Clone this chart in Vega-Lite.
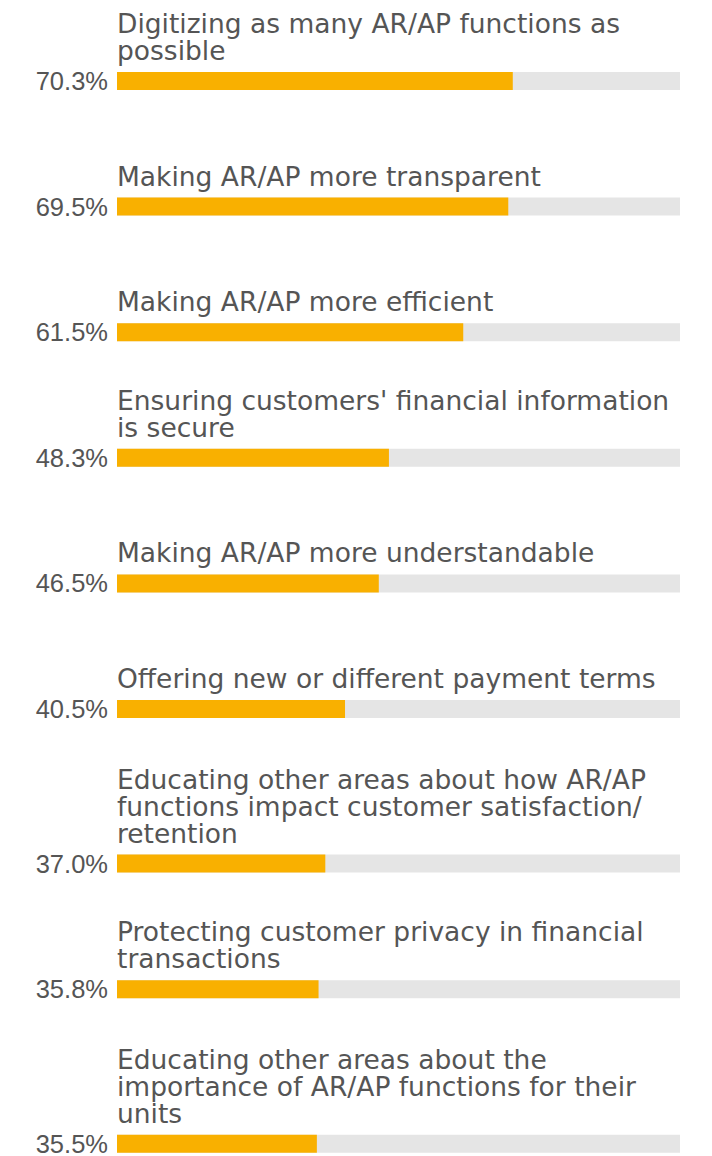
{
  "$schema": "https://vega.github.io/schema/vega-lite/v6.json",
  "padding": {"left": 35, "top": 12, "right": 5, "bottom": 5},
  "background": "white",
  "data": {
    "values": [
      {"label": "Digitizing as many AR/AP functions as\npossible", "value": 0.703},
      {"label": "Making AR/AP more transparent", "value": 0.695},
      {"label": "Making AR/AP more efficient", "value": 0.615},
      {"label": "Ensuring customers' financial information\nis secure", "value": 0.483},
      {"label": "Making AR/AP more understandable", "value": 0.465},
      {"label": "Offering new or different payment terms", "value": 0.405},
      {"label": "Educating other areas about how AR/AP\nfunctions impact customer satisfaction/\nretention", "value": 0.370},
      {"label": "Protecting customer privacy in financial\ntransactions", "value": 0.358},
      {"label": "Educating other areas about the\nimportance of AR/AP functions for their\nunits", "value": 0.355}
    ]
  },
  "transform": [{"window": [{"op": "row_number", "as": "rank"}], "sort": [{"field": "value", "order": "descending"}]}],
  "spacing": 107.6,
  "bounds": "flush",
  "vconcat": [
    {
      "transform": [{"filter": "datum.rank == 1"}],
      "width": 563, "height": 18,
      "encoding": {"y": {"field": "label", "type": "nominal", "axis": null, "scale": {"paddingInner": 0, "paddingOuter": 0}}},
      "layer": [
        {"mark": {"type": "bar", "color": "#e5e5e5"}, "encoding": {"x": {"datum": 0, "type": "quantitative", "scale": {"domain": [0, 1]}, "axis": null}, "x2": {"datum": 1}}},
        {"mark": {"type": "bar", "color": "#f9b000"}, "encoding": {"x": {"field": "value", "type": "quantitative"}}},
        {"mark": {"type": "text", "align": "right", "baseline": "alphabetic", "dx": -9, "dy": 9, "font": "Liberation Sans", "fontSize": 25.5, "color": "#555555"}, "encoding": {"x": {"datum": 0, "type": "quantitative"}, "text": {"field": "value", "type": "quantitative", "format": ".1%"}}},
        {"mark": {"type": "text", "align": "left", "baseline": "alphabetic", "dx": 0, "dy": -48, "lineBreak": "\n", "lineHeight": 27, "font": "DejaVu Sans", "fontSize": 26.5, "color": "#555555"}, "encoding": {"x": {"datum": 0, "type": "quantitative"}, "text": {"field": "label", "type": "nominal"}}}
      ]
    },
    {
      "transform": [{"filter": "datum.rank == 2"}],
      "width": 563, "height": 18,
      "encoding": {"y": {"field": "label", "type": "nominal", "axis": null, "scale": {"paddingInner": 0, "paddingOuter": 0}}},
      "layer": [
        {"mark": {"type": "bar", "color": "#e5e5e5"}, "encoding": {"x": {"datum": 0, "type": "quantitative", "scale": {"domain": [0, 1]}, "axis": null}, "x2": {"datum": 1}}},
        {"mark": {"type": "bar", "color": "#f9b000"}, "encoding": {"x": {"field": "value", "type": "quantitative"}}},
        {"mark": {"type": "text", "align": "right", "baseline": "alphabetic", "dx": -9, "dy": 9, "font": "Liberation Sans", "fontSize": 25.5, "color": "#555555"}, "encoding": {"x": {"datum": 0, "type": "quantitative"}, "text": {"field": "value", "type": "quantitative", "format": ".1%"}}},
        {"mark": {"type": "text", "align": "left", "baseline": "alphabetic", "dx": 0, "dy": -21, "lineBreak": "\n", "lineHeight": 27, "font": "DejaVu Sans", "fontSize": 26.5, "color": "#555555"}, "encoding": {"x": {"datum": 0, "type": "quantitative"}, "text": {"field": "label", "type": "nominal"}}}
      ]
    },
    {
      "transform": [{"filter": "datum.rank == 3"}],
      "width": 563, "height": 18,
      "encoding": {"y": {"field": "label", "type": "nominal", "axis": null, "scale": {"paddingInner": 0, "paddingOuter": 0}}},
      "layer": [
        {"mark": {"type": "bar", "color": "#e5e5e5"}, "encoding": {"x": {"datum": 0, "type": "quantitative", "scale": {"domain": [0, 1]}, "axis": null}, "x2": {"datum": 1}}},
        {"mark": {"type": "bar", "color": "#f9b000"}, "encoding": {"x": {"field": "value", "type": "quantitative"}}},
        {"mark": {"type": "text", "align": "right", "baseline": "alphabetic", "dx": -9, "dy": 9, "font": "Liberation Sans", "fontSize": 25.5, "color": "#555555"}, "encoding": {"x": {"datum": 0, "type": "quantitative"}, "text": {"field": "value", "type": "quantitative", "format": ".1%"}}},
        {"mark": {"type": "text", "align": "left", "baseline": "alphabetic", "dx": 0, "dy": -21, "lineBreak": "\n", "lineHeight": 27, "font": "DejaVu Sans", "fontSize": 26.5, "color": "#555555"}, "encoding": {"x": {"datum": 0, "type": "quantitative"}, "text": {"field": "label", "type": "nominal"}}}
      ]
    },
    {
      "transform": [{"filter": "datum.rank == 4"}],
      "width": 563, "height": 18,
      "encoding": {"y": {"field": "label", "type": "nominal", "axis": null, "scale": {"paddingInner": 0, "paddingOuter": 0}}},
      "layer": [
        {"mark": {"type": "bar", "color": "#e5e5e5"}, "encoding": {"x": {"datum": 0, "type": "quantitative", "scale": {"domain": [0, 1]}, "axis": null}, "x2": {"datum": 1}}},
        {"mark": {"type": "bar", "color": "#f9b000"}, "encoding": {"x": {"field": "value", "type": "quantitative"}}},
        {"mark": {"type": "text", "align": "right", "baseline": "alphabetic", "dx": -9, "dy": 9, "font": "Liberation Sans", "fontSize": 25.5, "color": "#555555"}, "encoding": {"x": {"datum": 0, "type": "quantitative"}, "text": {"field": "value", "type": "quantitative", "format": ".1%"}}},
        {"mark": {"type": "text", "align": "left", "baseline": "alphabetic", "dx": 0, "dy": -48, "lineBreak": "\n", "lineHeight": 27, "font": "DejaVu Sans", "fontSize": 26.5, "color": "#555555"}, "encoding": {"x": {"datum": 0, "type": "quantitative"}, "text": {"field": "label", "type": "nominal"}}}
      ]
    },
    {
      "transform": [{"filter": "datum.rank == 5"}],
      "width": 563, "height": 18,
      "encoding": {"y": {"field": "label", "type": "nominal", "axis": null, "scale": {"paddingInner": 0, "paddingOuter": 0}}},
      "layer": [
        {"mark": {"type": "bar", "color": "#e5e5e5"}, "encoding": {"x": {"datum": 0, "type": "quantitative", "scale": {"domain": [0, 1]}, "axis": null}, "x2": {"datum": 1}}},
        {"mark": {"type": "bar", "color": "#f9b000"}, "encoding": {"x": {"field": "value", "type": "quantitative"}}},
        {"mark": {"type": "text", "align": "right", "baseline": "alphabetic", "dx": -9, "dy": 9, "font": "Liberation Sans", "fontSize": 25.5, "color": "#555555"}, "encoding": {"x": {"datum": 0, "type": "quantitative"}, "text": {"field": "value", "type": "quantitative", "format": ".1%"}}},
        {"mark": {"type": "text", "align": "left", "baseline": "alphabetic", "dx": 0, "dy": -21, "lineBreak": "\n", "lineHeight": 27, "font": "DejaVu Sans", "fontSize": 26.5, "color": "#555555"}, "encoding": {"x": {"datum": 0, "type": "quantitative"}, "text": {"field": "label", "type": "nominal"}}}
      ]
    },
    {
      "transform": [{"filter": "datum.rank == 6"}],
      "width": 563, "height": 18,
      "encoding": {"y": {"field": "label", "type": "nominal", "axis": null, "scale": {"paddingInner": 0, "paddingOuter": 0}}},
      "layer": [
        {"mark": {"type": "bar", "color": "#e5e5e5"}, "encoding": {"x": {"datum": 0, "type": "quantitative", "scale": {"domain": [0, 1]}, "axis": null}, "x2": {"datum": 1}}},
        {"mark": {"type": "bar", "color": "#f9b000"}, "encoding": {"x": {"field": "value", "type": "quantitative"}}},
        {"mark": {"type": "text", "align": "right", "baseline": "alphabetic", "dx": -9, "dy": 9, "font": "Liberation Sans", "fontSize": 25.5, "color": "#555555"}, "encoding": {"x": {"datum": 0, "type": "quantitative"}, "text": {"field": "value", "type": "quantitative", "format": ".1%"}}},
        {"mark": {"type": "text", "align": "left", "baseline": "alphabetic", "dx": 0, "dy": -21, "lineBreak": "\n", "lineHeight": 27, "font": "DejaVu Sans", "fontSize": 26.5, "color": "#555555"}, "encoding": {"x": {"datum": 0, "type": "quantitative"}, "text": {"field": "label", "type": "nominal"}}}
      ]
    },
    {
      "transform": [{"filter": "datum.rank == 7"}],
      "width": 563, "height": 47,
      "encoding": {"y": {"field": "label", "type": "nominal", "axis": null, "scale": {"paddingInner": 0, "paddingOuter": 0.8056, "align": 1}}},
      "layer": [
        {"mark": {"type": "bar", "color": "#e5e5e5"}, "encoding": {"x": {"datum": 0, "type": "quantitative", "scale": {"domain": [0, 1]}, "axis": null}, "x2": {"datum": 1}}},
        {"mark": {"type": "bar", "color": "#f9b000"}, "encoding": {"x": {"field": "value", "type": "quantitative"}}},
        {"mark": {"type": "text", "align": "right", "baseline": "alphabetic", "dx": -9, "dy": 9, "font": "Liberation Sans", "fontSize": 25.5, "color": "#555555"}, "encoding": {"x": {"datum": 0, "type": "quantitative"}, "text": {"field": "value", "type": "quantitative", "format": ".1%"}}},
        {"mark": {"type": "text", "align": "left", "baseline": "alphabetic", "dx": 0, "dy": -75, "lineBreak": "\n", "lineHeight": 27, "font": "DejaVu Sans", "fontSize": 26.5, "color": "#555555"}, "encoding": {"x": {"datum": 0, "type": "quantitative"}, "text": {"field": "label", "type": "nominal"}}}
      ]
    },
    {
      "transform": [{"filter": "datum.rank == 8"}],
      "width": 563, "height": 18,
      "encoding": {"y": {"field": "label", "type": "nominal", "axis": null, "scale": {"paddingInner": 0, "paddingOuter": 0}}},
      "layer": [
        {"mark": {"type": "bar", "color": "#e5e5e5"}, "encoding": {"x": {"datum": 0, "type": "quantitative", "scale": {"domain": [0, 1]}, "axis": null}, "x2": {"datum": 1}}},
        {"mark": {"type": "bar", "color": "#f9b000"}, "encoding": {"x": {"field": "value", "type": "quantitative"}}},
        {"mark": {"type": "text", "align": "right", "baseline": "alphabetic", "dx": -9, "dy": 9, "font": "Liberation Sans", "fontSize": 25.5, "color": "#555555"}, "encoding": {"x": {"datum": 0, "type": "quantitative"}, "text": {"field": "value", "type": "quantitative", "format": ".1%"}}},
        {"mark": {"type": "text", "align": "left", "baseline": "alphabetic", "dx": 0, "dy": -48, "lineBreak": "\n", "lineHeight": 27, "font": "DejaVu Sans", "fontSize": 26.5, "color": "#555555"}, "encoding": {"x": {"datum": 0, "type": "quantitative"}, "text": {"field": "label", "type": "nominal"}}}
      ]
    },
    {
      "transform": [{"filter": "datum.rank == 9"}],
      "width": 563, "height": 47,
      "encoding": {"y": {"field": "label", "type": "nominal", "axis": null, "scale": {"paddingInner": 0, "paddingOuter": 0.8056, "align": 1}}},
      "layer": [
        {"mark": {"type": "bar", "color": "#e5e5e5"}, "encoding": {"x": {"datum": 0, "type": "quantitative", "scale": {"domain": [0, 1]}, "axis": null}, "x2": {"datum": 1}}},
        {"mark": {"type": "bar", "color": "#f9b000"}, "encoding": {"x": {"field": "value", "type": "quantitative"}}},
        {"mark": {"type": "text", "align": "right", "baseline": "alphabetic", "dx": -9, "dy": 9, "font": "Liberation Sans", "fontSize": 25.5, "color": "#555555"}, "encoding": {"x": {"datum": 0, "type": "quantitative"}, "text": {"field": "value", "type": "quantitative", "format": ".1%"}}},
        {"mark": {"type": "text", "align": "left", "baseline": "alphabetic", "dx": 0, "dy": -75, "lineBreak": "\n", "lineHeight": 27, "font": "DejaVu Sans", "fontSize": 26.5, "color": "#555555"}, "encoding": {"x": {"datum": 0, "type": "quantitative"}, "text": {"field": "label", "type": "nominal"}}}
      ]
    }
  ],
  "config": {"view": {"stroke": null}}
}
